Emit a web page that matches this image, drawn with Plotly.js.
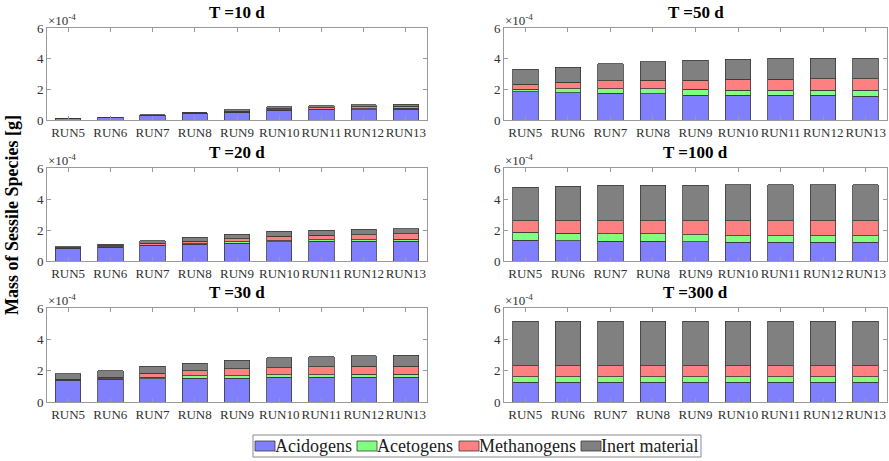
<!DOCTYPE html>
<html>
<head>
<meta charset="utf-8">
<script src="https://cdn.plot.ly/plotly-3.0.1.min.js"></script>
<style>html,body{margin:0;padding:0;background:#fff;}#chart{width:889px;height:461px;}</style>
</head>
<body>
<div id="chart"></div>
<script>
// Values in units of 1e-4 g (axis shows x10^-4)
const runs = ['RUN5','RUN6','RUN7','RUN8','RUN9','RUN10','RUN11','RUN12','RUN13'];
const species = ['Acidogens','Acetogens','Methanogens','Inert material'];
const speciesColors = ['#8080ff','#80ff80','#ff8080','#808080'];
const panelTitles = ['T =10 d','T =50 d','T =20 d','T =100 d','T =30 d','T =300 d'];

const acid10  = [0.10,0.16,0.31,0.44,0.50,0.63,0.66,0.68,0.70];
const aceto10 = [0.003,0.004,0.006,0.008,0.02,0.04,0.05,0.07,0.07];
const meth10  = [0.003,0.004,0.006,0.01,0.05,0.08,0.09,0.11,0.12];
const inert10 = [0.004,0.006,0.01,0.02,0.09,0.10,0.12,0.12,0.13];

const acid20  = [0.80,0.90,1.00,1.08,1.16,1.23,1.27,1.27,1.27];
const aceto20 = [0.02,0.02,0.03,0.04,0.08,0.08,0.10,0.10,0.14];
const meth20  = [0.03,0.05,0.12,0.17,0.21,0.30,0.30,0.32,0.34];
const inert20 = [0.07,0.10,0.16,0.24,0.29,0.30,0.33,0.35,0.34];

const acid30  = [1.40,1.46,1.50,1.52,1.52,1.57,1.57,1.57,1.57];
const aceto30 = [0.02,0.03,0.08,0.14,0.17,0.18,0.18,0.21,0.21];
const meth30  = [0.04,0.08,0.25,0.34,0.43,0.45,0.50,0.49,0.50];
const inert30 = [0.33,0.42,0.46,0.48,0.55,0.64,0.65,0.68,0.69];

const acid50  = [1.83,1.77,1.76,1.70,1.62,1.60,1.61,1.60,1.56];
const aceto50 = [0.18,0.28,0.27,0.33,0.39,0.35,0.33,0.34,0.38];
const meth50  = [0.33,0.40,0.52,0.57,0.59,0.71,0.72,0.75,0.75];
const inert50 = [0.96,1.00,1.12,1.20,1.31,1.31,1.36,1.33,1.35];

const acid100  = [1.34,1.32,1.27,1.27,1.25,1.21,1.21,1.21,1.21];
const aceto100 = [0.50,0.47,0.48,0.48,0.43,0.43,0.43,0.43,0.43];
const meth100  = [0.75,0.80,0.84,0.84,0.91,0.95,0.95,0.95,0.95];
const inert100 = [2.18,2.23,2.29,2.29,2.31,2.33,2.33,2.33,2.33];

const acid300  = [1.25,1.25,1.25,1.25,1.25,1.25,1.25,1.25,1.25];
const aceto300 = [0.37,0.37,0.37,0.37,0.37,0.37,0.37,0.37,0.37];
const meth300  = [0.71,0.71,0.71,0.71,0.71,0.71,0.71,0.71,0.71];
const inert300 = [2.81,2.81,2.81,2.81,2.81,2.81,2.81,2.81,2.81];

const yTickVals = [0,2,4,6];
const yTickText = ['0','2','4','6'];

// panels in order: 10, 50, 20, 100, 30, 300 (row-major, 2 columns)
const panelData = [
  [acid10, aceto10, meth10, inert10],
  [acid50, aceto50, meth50, inert50],
  [acid20, aceto20, meth20, inert20],
  [acid100, aceto100, meth100, inert100],
  [acid30, aceto30, meth30, inert30],
  [acid300, aceto300, meth300, inert300]
];

const W = 889, H = 461;
const colX = [[47,427],[504,887]];
const rowY = [[28,120],[168,261],[308,402]];
const FONT = 'Liberation Serif, Times New Roman, serif';
const frameColor = '#9a9a9a';
const textColor = '#303030';

const traces = [];
const layout = {
  width: W, height: H,
  margin: {l:0, r:0, t:0, b:0},
  paper_bgcolor: '#fff', plot_bgcolor: '#fff',
  barmode: 'stack',
  font: {family: FONT, size: 13, color: textColor},
  showlegend: false,
  annotations: [],
  shapes: []
};

panelData.forEach((series, p) => {
  const col = p % 2, row = Math.floor(p / 2);
  const idx = p === 0 ? '' : String(p + 1);
  const xa = 'xaxis' + idx, ya = 'yaxis' + idx;
  series.forEach((vals, s) => {
    traces.push({
      type: 'bar', x: runs, y: vals, name: species[s],
      xaxis: 'x' + idx, yaxis: 'y' + idx,
      legendgroup: species[s], showlegend: false,
      marker: {color: speciesColors[s], line: {color: '#3a3a3a', width: 0.8}},
      width: 0.6
    });
  });
  const xd = [colX[col][0] / W, colX[col][1] / W];
  const yd = [1 - rowY[row][1] / H, 1 - rowY[row][0] / H];
  layout[xa] = {
    domain: xd, anchor: 'y' + idx, type: 'category',
    range: [-0.5, 8.5], fixedrange: true,
    showline: true, linecolor: frameColor, linewidth: 1, mirror: 'ticks',
    ticks: 'inside', ticklen: 4, tickcolor: frameColor, tickangle: 0,
    showgrid: false, zeroline: false,
    tickfont: {family: FONT, size: 13, color: textColor}
  };
  layout[ya] = {
    domain: yd, anchor: 'x' + idx,
    range: [0, 6], fixedrange: true,
    tickvals: yTickVals, ticktext: yTickText,
    showline: true, linecolor: frameColor, linewidth: 1, mirror: 'ticks',
    ticks: 'inside', ticklen: 4, tickcolor: frameColor,
    showgrid: false, zeroline: false,
    tickfont: {family: FONT, size: 13, color: textColor}
  };
  // panel title
  layout.annotations.push({
    xref: 'paper', yref: 'paper',
    x: (xd[0] + xd[1]) / 2, y: yd[1] + 4 / H,
    xanchor: 'center', yanchor: 'bottom',
    text: '<b>' + panelTitles[p] + '</b>', showarrow: false,
    font: {family: FONT, size: 17, color: '#000'}
  });
  // exponent label
  layout.annotations.push({
    xref: 'paper', yref: 'paper',
    x: xd[0] - 1 / W, y: yd[1] - 2 / H,
    xanchor: 'left', yanchor: 'bottom',
    text: '\u00d710<sup>-4</sup>', showarrow: false,
    font: {family: FONT, size: 13, color: textColor}
  });
});

// shared y-axis title
layout.annotations.push({
  xref: 'paper', yref: 'paper', x: 12 / W, y: 1 - 215 / H,
  xanchor: 'center', yanchor: 'middle', textangle: -90,
  text: '<b>Mass of Sessile Species [g]</b>', showarrow: false,
  font: {family: FONT, size: 18, color: '#000'}
});

// legend (MATLAB-style box below the panels)
const legBox = {x0: 253, x1: 701, y0: 435, y1: 457};
const legSwatchX = [255, 357, 459, 581];
const legSwatchW = 20, legSwatchY = [441, 451];
layout.shapes.push({
  type: 'rect', xref: 'paper', yref: 'paper',
  x0: legBox.x0 / W, x1: legBox.x1 / W, y0: 1 - legBox.y1 / H, y1: 1 - legBox.y0 / H,
  line: {color: '#8a8a8a', width: 1}, fillcolor: '#fff'
});
species.forEach((name, s) => {
  layout.shapes.push({
    type: 'rect', xref: 'paper', yref: 'paper',
    x0: legSwatchX[s] / W, x1: (legSwatchX[s] + legSwatchW) / W,
    y0: 1 - legSwatchY[1] / H, y1: 1 - legSwatchY[0] / H,
    line: {color: '#3a3a3a', width: 0.8}, fillcolor: speciesColors[s]
  });
  layout.annotations.push({
    xref: 'paper', yref: 'paper',
    x: (legSwatchX[s] + legSwatchW) / W, y: 1 - 446 / H,
    xanchor: 'left', yanchor: 'middle', showarrow: false,
    text: name, xshift: -2,
    font: {family: FONT, size: 18, color: '#202020'}
  });
});

Plotly.newPlot('chart', traces, layout, {staticPlot: true, displayModeBar: false});
</script>
</body>
</html>
